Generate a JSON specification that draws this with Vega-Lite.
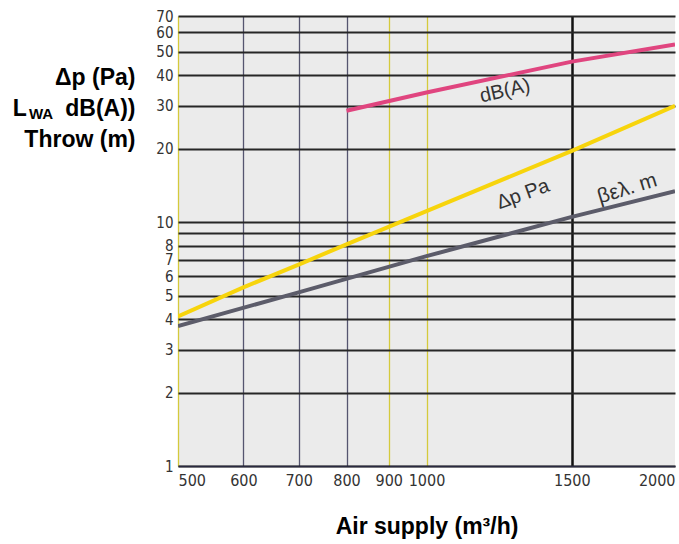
{
  "$schema": "https://vega.github.io/schema/vega-lite/v6.json",
  "width": 497,
  "height": 450,
  "autosize": {"type": "none"},
  "padding": {"left": 178, "top": 16, "right": 4, "bottom": 78},
  "background": "white",
  "config": {"view": {"fill": "#ebebeb", "stroke": null}},
  "title": {
    "text": "WA",
    "orient": "top",
    "anchor": "start",
    "frame": "group",
    "offset": 0,
    "dx": -149,
    "dy": 125,
    "baseline": "alphabetic",
    "font": "Liberation Sans",
    "fontSize": 15,
    "fontWeight": "bold",
    "color": "#000000"
  },
  "data": {
    "values": [
      {"series": "dB(A)", "x": 800, "y": 28.6},
      {"series": "dB(A)", "x": 1000, "y": 34},
      {"series": "dB(A)", "x": 1500, "y": 45.5},
      {"series": "dB(A)", "x": 2000, "y": 53.5},
      {"series": "dp", "x": 500, "y": 4.1},
      {"series": "dp", "x": 600, "y": 5.4},
      {"series": "dp", "x": 700, "y": 6.7},
      {"series": "dp", "x": 800, "y": 8.1},
      {"series": "dp", "x": 1000, "y": 11.1},
      {"series": "dp", "x": 1500, "y": 19.6},
      {"series": "dp", "x": 2000, "y": 30},
      {"series": "throw", "x": 500, "y": 3.75},
      {"series": "throw", "x": 700, "y": 5.15},
      {"series": "throw", "x": 1000, "y": 7.25},
      {"series": "throw", "x": 1500, "y": 10.5},
      {"series": "throw", "x": 2000, "y": 13.4}
    ]
  },
  "layer": [
    {
      "mark": {"type": "line", "strokeWidth": 4, "clip": true},
      "encoding": {
        "x": {
          "field": "x",
          "type": "quantitative",
          "scale": {"type": "log", "domain": [500, 2000], "nice": false},
          "axis": {
            "values": [500, 600, 700, 800, 900, 1000, 1500, 2000],
            "format": "d",
            "labelFlush": true,
            "labelOverlap": false,
            "labelFont": "Liberation Sans Narrow, DejaVu Sans Condensed, sans-serif",
            "labelFontSize": 16,
            "labelColor": "#333333",
            "labelPadding": 6,
            "ticks": false,
            "domain": true,
            "domainColor": "#2a2a40",
            "domainWidth": 1.5,
            "grid": true,
            "gridOpacity": 1,
            "gridColor": {
              "condition": [
                {"test": "datum.value == 1500", "value": "#111111"},
                {"test": "datum.value == 2000", "value": "transparent"},
                {"test": "datum.value == 500 || datum.value == 900 || datum.value == 1000", "value": "#d4ca3c"}
              ],
              "value": "#55556f"
            },
            "gridWidth": {"condition": {"test": "datum.value == 1500", "value": 2.5}, "value": 1.3},
            "title": "Air supply (m³/h)",
            "titleFont": "Liberation Sans",
            "titleFontSize": 23,
            "titleFontWeight": "bold",
            "titleColor": "#000000",
            "titleAnchor": "middle",
            "titleBaseline": "alphabetic",
            "titleY": 67
          }
        },
        "y": {
          "field": "y",
          "type": "quantitative",
          "scale": {"type": "log", "domain": [1, 70], "nice": false},
          "axis": {
            "values": [1, 2, 3, 4, 5, 6, 7, 8, 9, 10, 20, 30, 40, 50, 60, 70],
            "labelExpr": "datum.value == 9 ? '' : format(datum.value, 'd')",
            "labelOverlap": false,
            "labelBound": false,
            "labelFont": "Liberation Sans Narrow, DejaVu Sans Condensed, sans-serif",
            "labelFontSize": 15,
            "labelColor": "#333333",
            "labelPadding": 5,
            "ticks": false,
            "domain": false,
            "grid": true,
            "gridColor": "#262626",
            "gridOpacity": 1,
            "gridWidth": 2,
            "title": ["Δp (Pa)", "L\u00a0\u00a0\u00a0\u00a0\u00a0 dB(A))", "Throw (m)"],
            "titleAngle": 0,
            "titleAlign": "right",
            "titleBaseline": "top",
            "titleX": -43,
            "titleY": 50,
            "titleLineHeight": 31,
            "titleFont": "Liberation Sans",
            "titleFontSize": 23,
            "titleFontWeight": "bold",
            "titleColor": "#000000"
          }
        },
        "color": {
          "field": "series",
          "type": "nominal",
          "scale": {"domain": ["dB(A)", "dp", "throw"], "range": ["#e0457f", "#f7d40c", "#5c5c6a"]},
          "legend": null
        }
      }
    },
    {
      "data": {"values": [{"x": 1245, "y": 34.5, "label": "dB(A)"}]},
      "mark": {"type": "text", "angle": 347, "font": "Liberation Sans", "fontSize": 20, "color": "#333333"},
      "encoding": {
        "x": {"field": "x", "type": "quantitative"},
        "y": {"field": "y", "type": "quantitative"},
        "text": {"field": "label"}
      }
    },
    {
      "data": {"values": [{"x": 1309, "y": 13.0, "label": "Δp Pa"}]},
      "mark": {"type": "text", "angle": 340, "font": "Liberation Sans", "fontSize": 20, "color": "#333333"},
      "encoding": {
        "x": {"field": "x", "type": "quantitative"},
        "y": {"field": "y", "type": "quantitative"},
        "text": {"field": "label"}
      }
    },
    {
      "data": {"values": [{"x": 1751, "y": 13.7, "label": "βελ. m"}]},
      "mark": {"type": "text", "angle": 343, "font": "Liberation Sans", "fontSize": 21, "color": "#333333"},
      "encoding": {
        "x": {"field": "x", "type": "quantitative"},
        "y": {"field": "y", "type": "quantitative"},
        "text": {"field": "label"}
      }
    }
  ]
}
